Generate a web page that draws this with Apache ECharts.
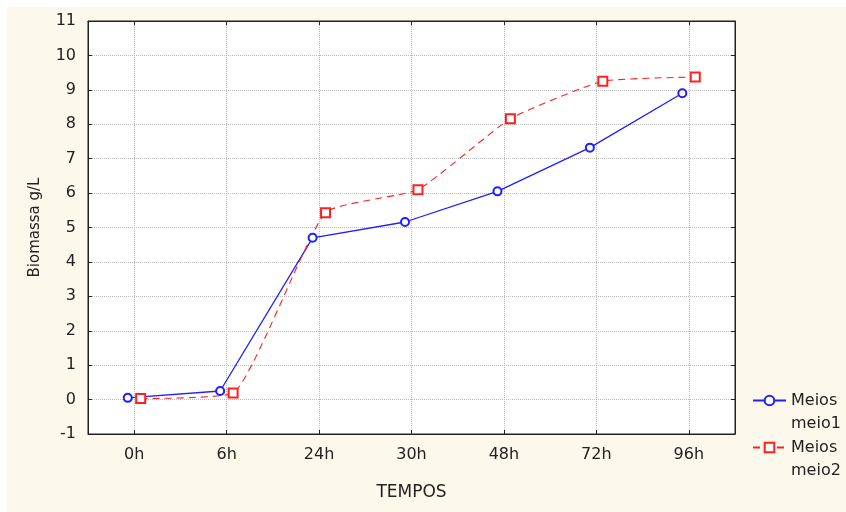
<!DOCTYPE html>
<html>
<head>
<meta charset="utf-8">
<script src="https://cdn.jsdelivr.net/npm/echarts@6/dist/echarts.min.js"></script>
<style>
  html, body { margin: 0; padding: 0; background: #ffffff; }
  #chart { position: absolute; left: 7px; top: 7px; width: 839px; height: 505px; background: #fdf8ec; }
</style>
</head>
<body>
<div id="chart"></div>
<script>
// sampling times and biomass readings (g/L)
var tempos = ['0h', '6h', '24h', '30h', '48h', '72h', '96h']
var meio1 = [0.05, 0.25, 4.70, 5.16, 6.05, 7.32, 8.90]
var meio2 = [0.03, 0.19, 5.43, 6.10, 8.16, 9.25, 9.37]
var nomes = ['Meios\nmeio1', 'Meios\nmeio2']

var FONT = '"DejaVu Sans", Arial, sans-serif'
var SHIFT = 0.07 // the two series are drawn slightly apart on each time

function pontos(vals, off) {
  return vals.map(function (v, i) { return [i + off, v] })
}

var gridLine = { show: true, lineStyle: { color: '#bdbdbd', type: 'dotted', width: 1 } }
var tick = { show: true, inside: true, length: 4, lineStyle: { color: '#222' } }
var axisLine = { show: true, onZero: false, lineStyle: { color: '#222', width: 1 } }

var chart = echarts.init(document.getElementById('chart'))
chart.setOption({
  animation: false,
  textStyle: { fontFamily: FONT },
  grid: {
    left: 81, right: 111, top: 14, bottom: 78,
    show: true, backgroundColor: '#ffffff', borderColor: '#222', borderWidth: 1
  },
  // one legend per series so the icon sits on the first text line
  legend: [0, 1].map(function (k) {
    return {
      data: [nomes[k]],
      left: 745,
      top: 359 + k * 47,
      padding: 0,
      itemWidth: 33,
      itemHeight: 12,
      itemGap: 8,
      formatter: function (n) { return '\n' + n },
      textStyle: { fontSize: 16, color: '#222', lineHeight: 23 }
    }
  }),
  xAxis: [
    {
      type: 'category', data: tempos, position: 'bottom',
      name: 'TEMPOS', nameLocation: 'middle', nameGap: 50,
      nameTextStyle: { fontSize: 17, color: '#222' },
      axisLine: axisLine,
      axisTick: Object.assign({ alignWithLabel: true }, tick),
      axisLabel: { fontSize: 16, color: '#222', margin: 13 },
      splitLine: Object.assign({ alignWithLabel: true }, gridLine)
    },
    {
      type: 'category', data: tempos, position: 'top',
      axisLine: axisLine,
      axisTick: Object.assign({ alignWithLabel: true }, tick),
      axisLabel: { show: false },
      splitLine: { show: false }
    },
    { type: 'value', min: -0.5, max: 6.5, show: false }
  ],
  yAxis: [
    {
      type: 'value', min: -1, max: 11, interval: 1,
      name: 'Biomassa g/L', nameLocation: 'middle', nameGap: 45,
      nameTextStyle: { fontSize: 15, color: '#222' },
      axisLine: axisLine,
      axisTick: tick,
      axisLabel: { fontSize: 16, color: '#222', margin: 12 },
      splitLine: gridLine
    },
    {
      type: 'value', min: -1, max: 11, interval: 1, position: 'right',
      axisLine: axisLine,
      axisTick: tick,
      axisLabel: { show: false },
      splitLine: { show: false }
    }
  ],
  series: [
    {
      name: nomes[0], type: 'line', xAxisIndex: 2, yAxisIndex: 0,
      data: pontos(meio1, -SHIFT),
      symbol: 'emptyCircle', symbolSize: 8,
      itemStyle: { color: '#1f1fff', borderWidth: 1.2 },
      lineStyle: { color: '#1f1fff', width: 1.3 }
    },
    {
      name: nomes[1], type: 'line', xAxisIndex: 2, yAxisIndex: 0,
      data: pontos(meio2, SHIFT),
      smooth: 0.15,
      symbol: 'emptyRect', symbolSize: 9,
      itemStyle: { color: '#ff1f1f', borderWidth: 1.2 },
      lineStyle: { color: '#ff1f1f', width: 1.1, type: [7, 5] }
    }
  ]
})
</script>
</body>
</html>
